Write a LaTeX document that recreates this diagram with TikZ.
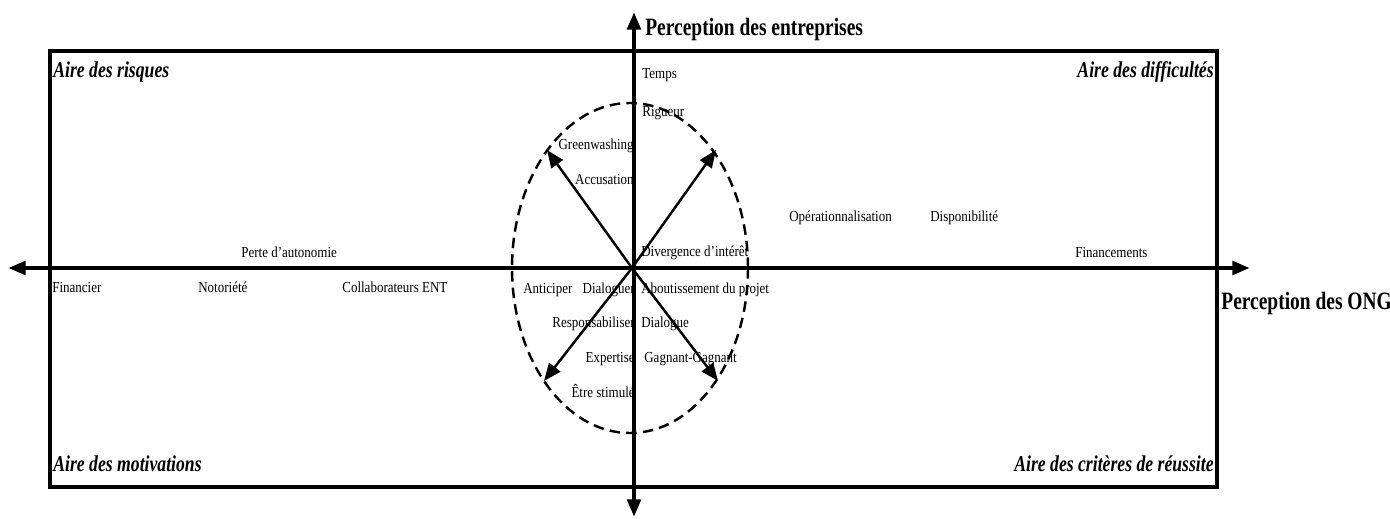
\documentclass[tikz,border=0pt]{standalone}
\usepackage{fontspec}
\setmainfont{Liberation Serif}[FakeStretch=0.85]
\newfontfamily\areafont{Liberation Serif}[FakeStretch=0.78]
\usetikzlibrary{arrows.meta, positioning}
\tikzset{
  %% Plain label
  lbl/.style={
    inner sep=0pt, font=\fontsize{8.7}{10}\selectfont,
    text height=1.45ex, text depth=0pt
  },
  %% Area title (corners)
  area/.style={
    inner sep=0pt, font=\areafont\fontsize{12.9}{14}\selectfont\bfseries\itshape,
    text height=1.45ex, text depth=0pt
  },
  %% Axis title
  axlbl/.style={
    inner sep=0pt, font=\areafont\fontsize{14.2}{16}\selectfont\bfseries,
    text height=1.45ex, text depth=0pt
  },
  %% Axis with two tips
  axarr/.style={{Triangle[length=10pt,width=7.5pt]}-{Triangle[length=10pt,width=7.5pt]},
                line width=2.6pt},
  %% Vector from origin
  vec/.style={-{Triangle[length=10pt,width=8pt]}, line width=1.4pt},
  %% Dashed zone
  zone/.style={dash pattern=on 6pt off 3.5pt, line width=1.4pt},
}

\begin{document}
\begin{tikzpicture}[x=0.02cm, y=0.02cm]

  \useasboundingbox (0,0) rectangle (1390,518);

  %% Frame
  \draw[line width=2.6pt] (50,467) rectangle (1217,31);

  %% Axes
  \coordinate (axW) at (8,250);
  \coordinate (axE) at (1250,250);
  \coordinate (axN) at (634,506);
  \coordinate (axS) at (634,1);
  \draw[axarr] (axW) -- (axE);
  \draw[axarr] (axS) -- (axN);

  %% Dashed zone around origin
  \draw[zone] (630,250) ellipse [x radius=118, y radius=165];

  %% Vectors
  \coordinate (o) at (632,250);
  \coordinate (vNW) at (547,368);
  \coordinate (vNE) at (716,368);
  \coordinate (vSW) at (544,137);
  \coordinate (vSE) at (718,137);
  \foreach \v in {vNW, vNE, vSW, vSE}
    \draw[vec] (o) -- (\v);

  %% Axis titles
  \node[axlbl, anchor=west] (pEnt) at (645,488) {Perception des entreprises};
  \node[axlbl, anchor=west] (pOng) at (1221,214) {Perception des ONG};

  %% Area titles
  \node[area, anchor=west] (aRisk) at (53,446) {Aire des risques};
  \node[area, anchor=east] (aDiff) at (1214,446) {Aire des difficultés};
  \node[area, anchor=west] (aMotiv) at (53,52) {Aire des motivations};
  \node[area, anchor=east] (aCrit) at (1214,52) {Aire des critères de réussite};

  %% Upper labels
  \node[lbl, anchor=west] (temps) at (642,445) {Temps};
  \node[lbl, anchor=west] (rigueur) at (642,407) {Rigueur};
  \node[lbl, anchor=east] (green) at (634,374) {Greenwashing};
  \node[lbl, anchor=east] (accus) at (634,339) {Accusation};
  \node[lbl, anchor=west] (diverg) at (641,267) {Divergence d'intérêt};
  \node[lbl, anchor=west] (operat) at (789,302) {Opérationnalisation};
  \node[lbl, anchor=west] (dispo) at (930,302) {Disponibilité};
  \node[lbl, anchor=west] (financ) at (1075,266) {Financements};
  \node[lbl, anchor=west] (perte) at (241,266) {Perte d'autonomie};

  %% Lower labels
  \node[lbl, anchor=west] (financier) at (52,231) {Financier};
  \node[lbl, anchor=west] (notor) at (198,231) {Notoriété};
  \node[lbl, anchor=west] (collab) at (342,231) {Collaborateurs ENT};
  \node[lbl, anchor=west] (anticip) at (523,230) {Anticiper};
  \node[lbl, anchor=east] (dialoguer) at (635,230) {Dialoguer};
  \node[lbl, anchor=west] (abouti) at (641,230) {Aboutissement du projet};
  \node[lbl, anchor=east] (respons) at (635,196) {Responsabiliser};
  \node[lbl, anchor=west] (dialogue) at (641,196) {Dialogue};
  \node[lbl, anchor=east] (expert) at (635,161) {Expertise};
  \node[lbl, anchor=west] (gagnant) at (644,161) {Gagnant-Gagnant};
  \node[lbl, anchor=east] (stimule) at (635,126) {Être stimulé};

\end{tikzpicture}
\end{document}
